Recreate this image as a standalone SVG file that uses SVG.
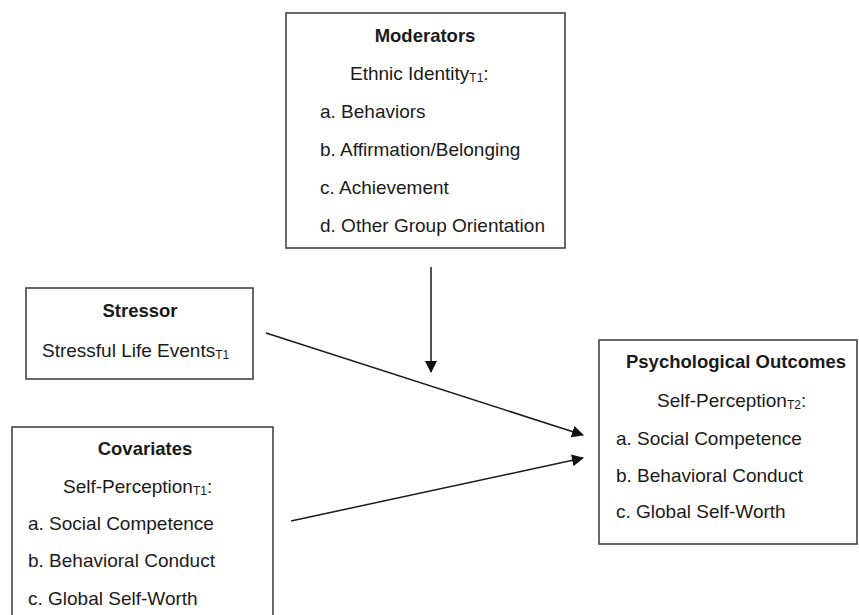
<svg xmlns="http://www.w3.org/2000/svg" width="859" height="615" viewBox="0 0 859 615">
<defs>
<style>
.box{fill:#fff;stroke:#444;stroke-width:1.6}
text{font-family:"Liberation Sans",Arial,sans-serif;font-size:19px;fill:#1a1a1a}
.t{font-weight:bold;font-size:18.5px;text-anchor:middle}
.sub{font-size:12px}
.edge{stroke:#1a1a1a;stroke-width:1.5;fill:none;marker-end:url(#ah)}
</style>
<marker id="ah" viewBox="0 0 12 12" refX="11" refY="6" markerWidth="12" markerHeight="12" markerUnits="userSpaceOnUse" orient="auto">
<path d="M0,0 L12,6 L0,12 Z" fill="#111"/>
</marker>
</defs>
<rect width="859" height="615" fill="#fff"/>
<g id="moderators">
<rect class="box" x="286" y="13" width="279" height="235"/>
<text class="t" x="425" y="42">Moderators</text>
<text x="350" y="80">Ethnic Identity<tspan class="sub" dy="2">T1</tspan><tspan dy="-2">:</tspan></text>
<text x="320" y="118">a. Behaviors</text>
<text x="320" y="156">b. Affirmation/Belonging</text>
<text x="320" y="194">c. Achievement</text>
<text x="320" y="232">d. Other Group Orientation</text>
</g>
<g id="stressor">
<rect class="box" x="26" y="288" width="227" height="91"/>
<text class="t" x="140" y="317">Stressor</text>
<text x="42" y="357">Stressful Life Events<tspan class="sub" dy="2">T1</tspan></text>
</g>
<g id="covariates">
<rect class="box" x="12" y="427" width="261" height="200"/>
<text class="t" x="145" y="455">Covariates</text>
<text x="63" y="493">Self-Perception<tspan class="sub" dy="2">T1</tspan><tspan dy="-2">:</tspan></text>
<text x="28" y="530">a. Social Competence</text>
<text x="28" y="567">b. Behavioral Conduct</text>
<text x="28" y="605">c. Global Self-Worth</text>
</g>
<g id="outcomes">
<rect class="box" x="599" y="340" width="258" height="204"/>
<text class="t" x="736" y="368">Psychological Outcomes</text>
<text x="657" y="407">Self-Perception<tspan class="sub" dy="2">T2</tspan><tspan dy="-2">:</tspan></text>
<text x="616" y="445">a. Social Competence</text>
<text x="616" y="482">b. Behavioral Conduct</text>
<text x="616" y="518">c. Global Self-Worth</text>
</g>
<g id="connectors">
<line class="edge" x1="431" y1="267" x2="431" y2="372"/>
<line class="edge" x1="266" y1="333" x2="583" y2="435"/>
<line class="edge" x1="291" y1="521" x2="583" y2="458"/>
</g>
</svg>
